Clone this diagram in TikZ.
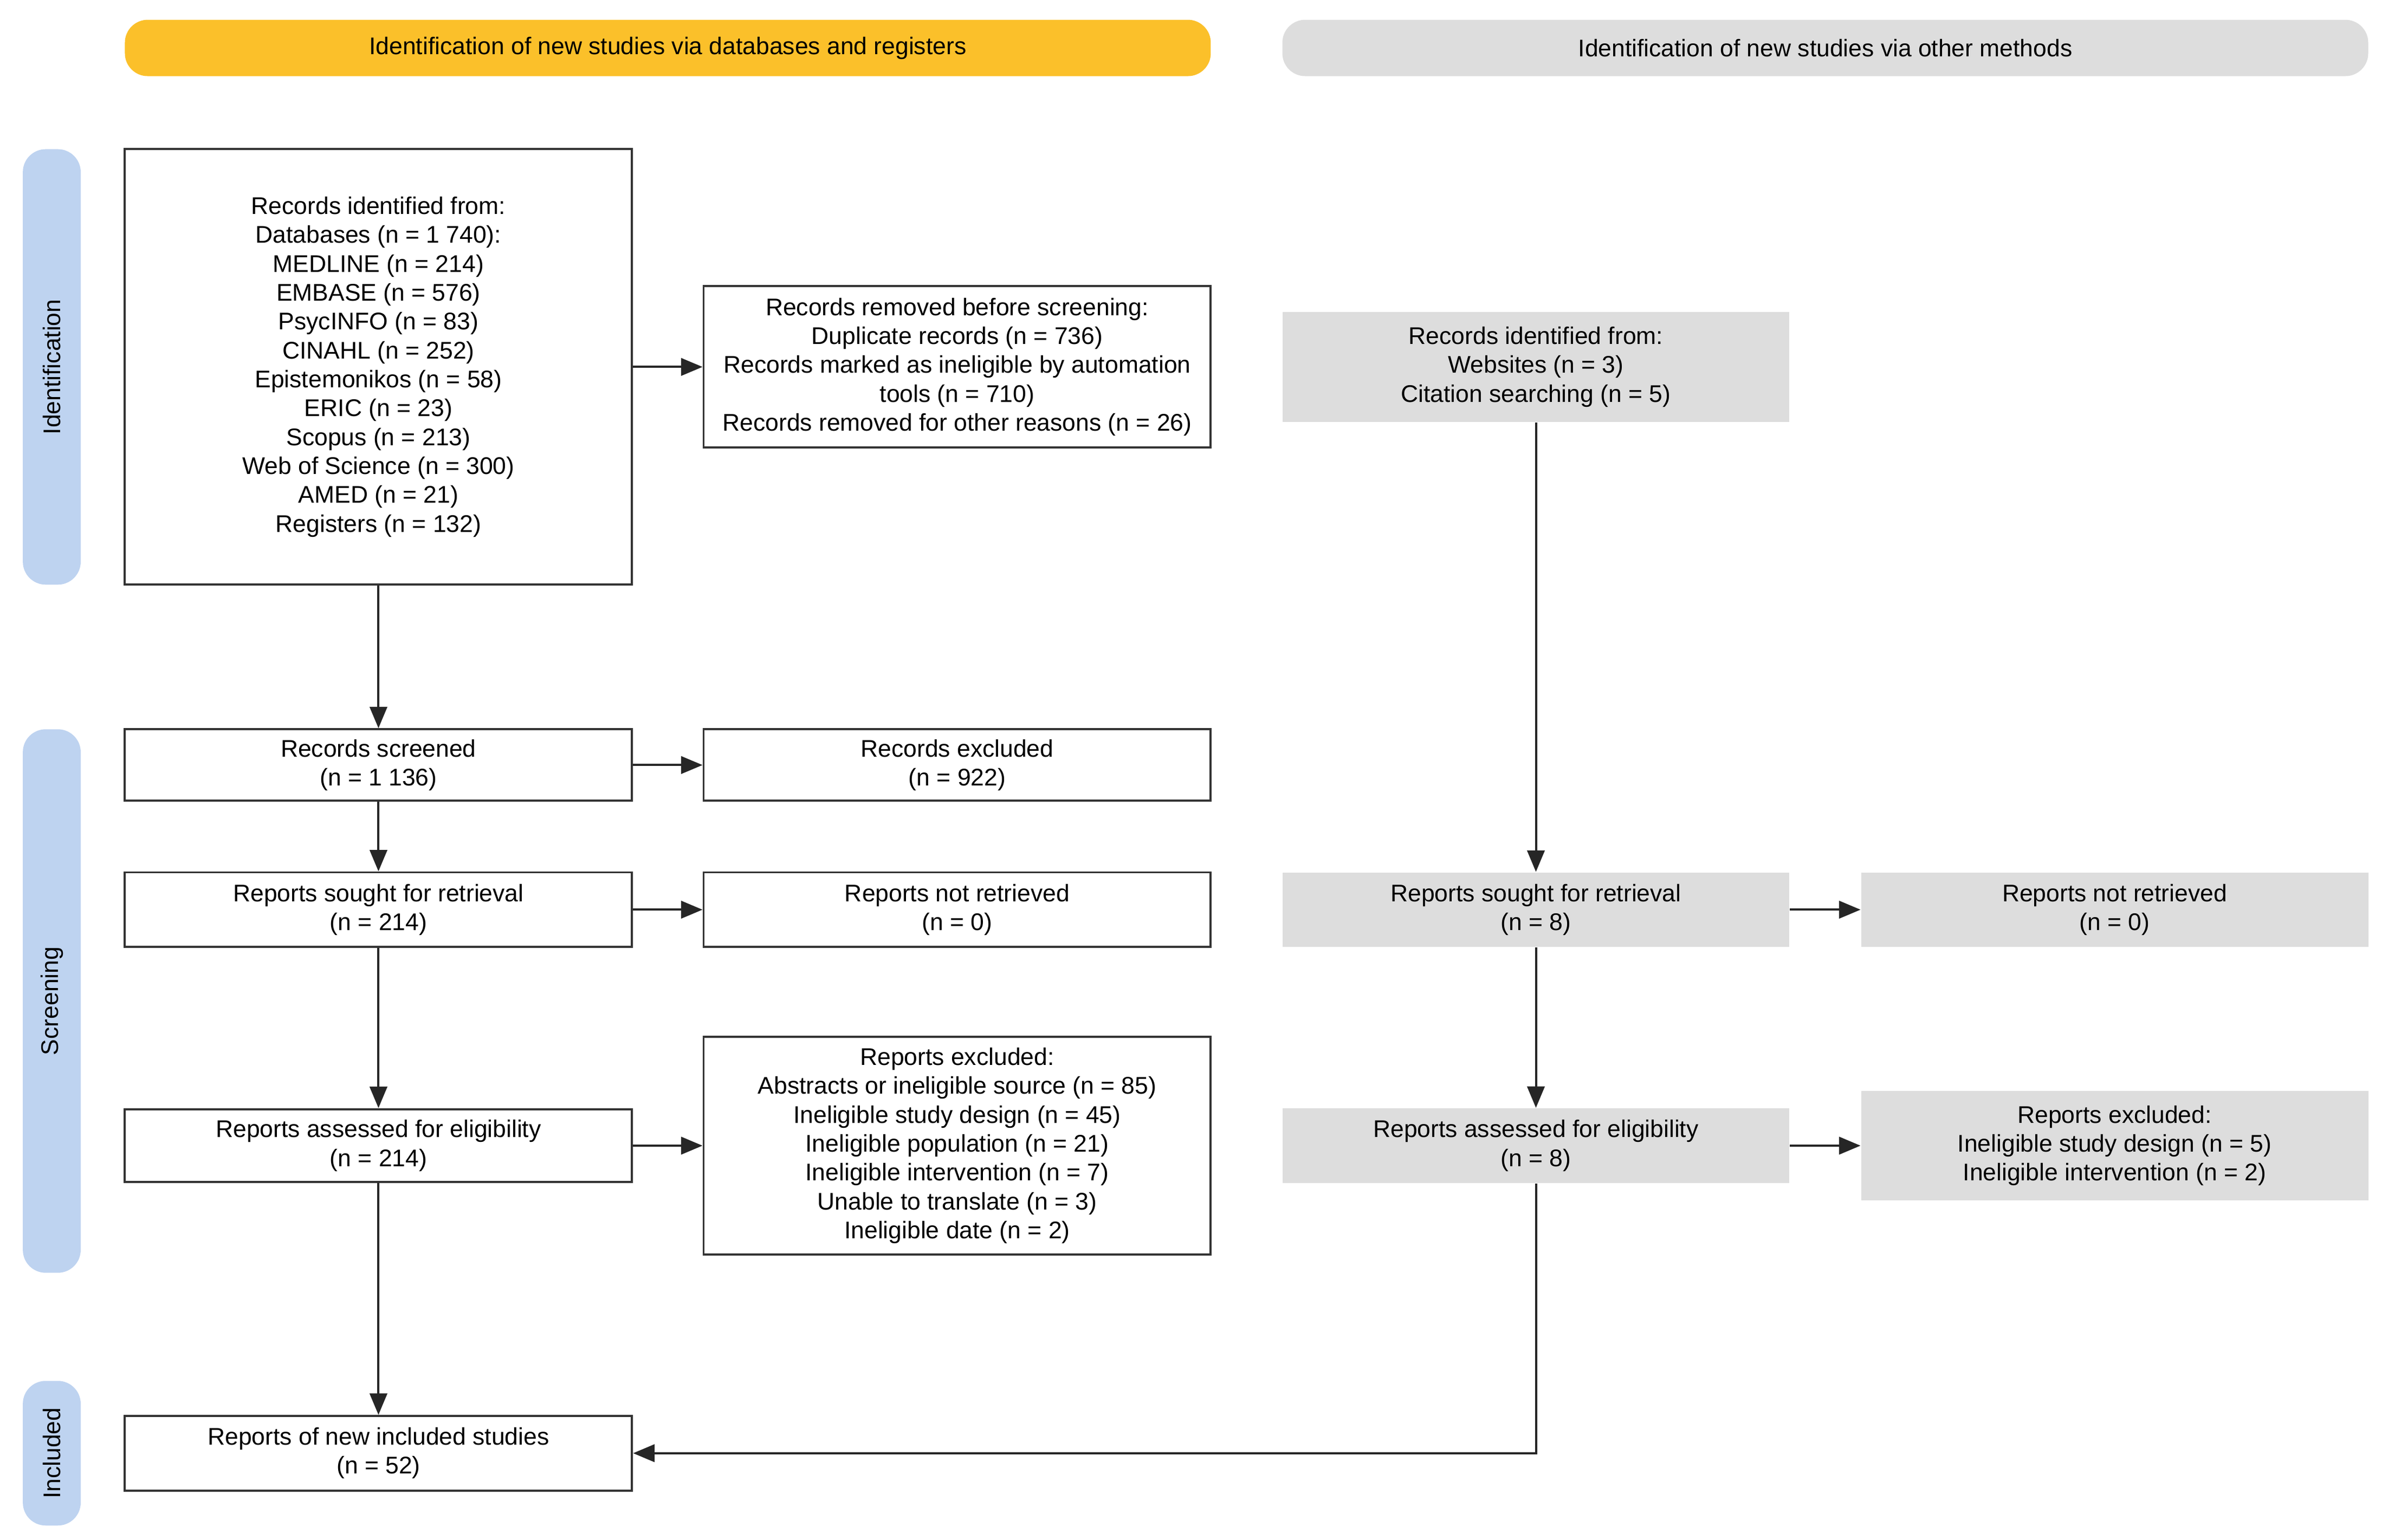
\documentclass[tikz,border=0pt]{standalone}
\usepackage{fontspec}
\setmainfont{Liberation Sans}
\usetikzlibrary{arrows.meta, positioning}
\definecolor{bandyellow}{RGB}{251,192,42}
\definecolor{bandgray}{RGB}{221,221,221}
\definecolor{phaseblue}{RGB}{190,211,240}

\begin{document}
\begin{tikzpicture}[
  txt/.style={font=\fontsize{9}{10.8}\selectfont, align=center, inner sep=0pt},
  box/.style={txt, draw=black!80, line width=0.8pt, minimum width=6.66cm},
  greybox/.style={txt, fill=bandgray, minimum width=6.66cm},
  band/.style={txt, rounded corners=0.3cm, minimum width=14.26cm, minimum height=0.74cm},
  phase/.style={txt, fill=phaseblue, rounded corners=0.3cm, minimum height=0.76cm, rotate=90},
  arr/.style={-{Triangle[length=8pt, width=6.5pt]}, line width=0.8pt, black!85}
]
\useasboundingbox (0, 0) rectangle (31.36, -20.23);

\node (dbband)[band, fill=bandyellow] at (8.77, -0.63) {Identification of new studies via databases and registers};
\node (otherband)[band, fill=bandgray] at (23.97, -0.63) {Identification of new studies via other methods};

\node (pident)[phase, minimum width=5.72cm] at (0.68, -4.82) {Identification};
\node (pscreen)[phase, minimum width=7.14cm] at (0.68, -13.15) {Screening};
\node (pincl)[phase, minimum width=1.9cm] at (0.68, -19.09) {Included};

\node (ident)[box, minimum height=5.72cm] at (4.97, -4.82) {Records identified from:\\Databases (n = 1 740):\\MEDLINE (n = 214)\\EMBASE (n = 576)\\PsycINFO (n = 83)\\CINAHL (n = 252)\\Epistemonikos (n = 58)\\ERIC (n = 23)\\Scopus (n = 213)\\Web of Science (n = 300)\\AMED (n = 21)\\Registers (n = 132)};
\node (screened)[box, minimum height=0.94cm] at (4.97, -10.05) {Records screened\\(n = 1 136)};
\node (sought)[box, minimum height=0.98cm] at (4.97, -11.95) {Reports sought for retrieval\\(n = 214)};
\node (assessed)[box, minimum height=0.96cm] at (4.97, -15.05) {Reports assessed for eligibility\\(n = 214)};
\node (included)[box, minimum height=0.98cm] at (4.97, -19.09) {Reports of new included studies\\(n = 52)};

\node (removed)[box, minimum height=2.12cm] at (12.57, -4.82) {Records removed before screening:\\Duplicate records (n = 736)\\Records marked as ineligible by automation\\tools (n = 710)\\Records removed for other reasons (n = 26)};
\node (excluded)[box, minimum height=0.94cm] at (12.57, -10.05) {Records excluded\\(n = 922)};
\node (notretr)[box, minimum height=0.98cm] at (12.57, -11.95) {Reports not retrieved\\(n = 0)};
\node (repexcl)[box, minimum height=2.86cm] at (12.57, -15.05) {Reports excluded:\\Abstracts or ineligible source (n = 85)\\Ineligible study design (n = 45)\\Ineligible population (n = 21)\\Ineligible intervention (n = 7)\\Unable to translate (n = 3)\\Ineligible date (n = 2)};

\node (oident)[greybox, minimum height=1.44cm] at (20.17, -4.82) {Records identified from:\\Websites (n = 3)\\Citation searching (n = 5)};
\node (osought)[greybox, minimum height=0.98cm] at (20.17, -11.95) {Reports sought for retrieval\\(n = 8)};
\node (oassessed)[greybox, minimum height=0.98cm] at (20.17, -15.05) {Reports assessed for eligibility\\(n = 8)};
\node (onotretr)[greybox, minimum height=0.98cm] at (27.77, -11.95) {Reports not retrieved\\(n = 0)};
\node (oexcl)[greybox, minimum height=1.44cm] at (27.77, -15.05) {Reports excluded:\\Ineligible study design (n = 5)\\Ineligible intervention (n = 2)};

\draw[arr] (ident) -- (removed);
\draw[arr] (ident) -- (screened);
\draw[arr] (screened) -- (excluded);
\draw[arr] (screened) -- (sought);
\draw[arr] (sought) -- (notretr);
\draw[arr] (sought) -- (assessed);
\draw[arr] (assessed) -- (repexcl);
\draw[arr] (assessed) -- (included);

\draw[arr] (oident) -- (osought);
\draw[arr] (osought) -- (onotretr);
\draw[arr] (osought) -- (oassessed);
\draw[arr] (oassessed) -- (oexcl);
\draw[arr] (oassessed.south) |- (included.east);
\end{tikzpicture}
\end{document}
